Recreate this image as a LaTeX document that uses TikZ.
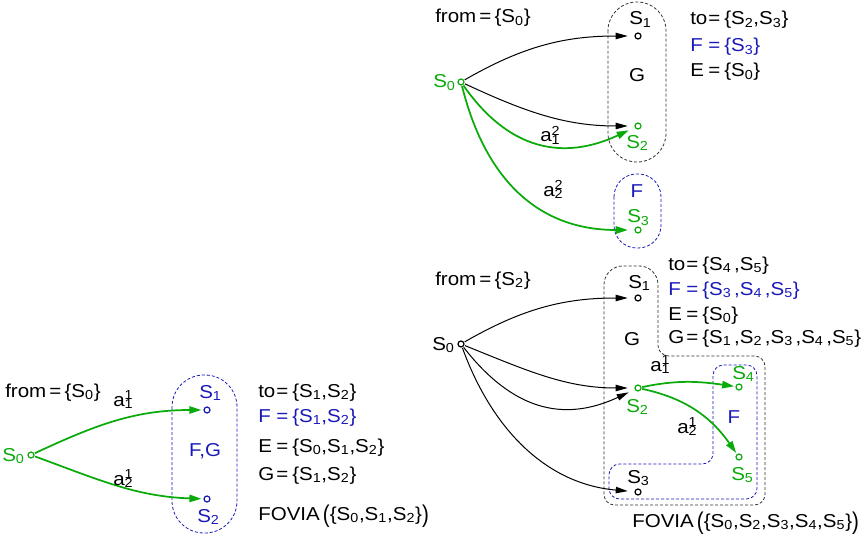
\documentclass[tikz,border=0pt]{standalone}
\usepackage{fontspec}
\setmainfont{Liberation Sans}[FakeStretch=1.1]
\usepackage{graphicx}
\usetikzlibrary{arrows.meta}
\definecolor{gr}{RGB}{10,170,10}
\definecolor{bl}{RGB}{25,25,185}
\newcommand\St[1]{S\textsubscript{#1}}
\newcommand\Sk[1]{S\textsubscript{#1}\kern2pt}
\newcommand\act[2]{a\rlap{\textsuperscript{#2}}\textsubscript{#1}}
\newcommand\eq[1]{\makebox[13.5pt][l]{#1}=\hspace{3pt}}
\newcommand\bigpar[1]{\raisebox{-0.13em}{\scalebox{1}[1.3]{#1}}}
\begin{document}
\begin{tikzpicture}[x=0.75pt,y=-0.75pt,
  txt/.style={inner sep=0pt,anchor=base west,font=\fontsize{14}{16}\selectfont},
  ctxt/.style={txt,anchor=base},
  dot/.style={circle,draw,inner sep=0pt,minimum size=4.5pt,line width=0.9pt},
  karrow/.style={draw=black,line width=0.75pt,-{Triangle[length=9pt,width=4.8pt]},shorten >=5pt,shorten <=0.5pt},
  garrow/.style={draw=gr,line width=1.3pt,-{Triangle[length=9pt,width=5.5pt]},shorten >=5pt,shorten <=0.5pt},
  kdash/.style={draw=black!80,line width=0.6pt,dash pattern=on 2.25pt off 1.5pt},
  bdash/.style={draw=bl,line width=0.6pt,dash pattern=on 2.25pt off 1.5pt},
]
\useasboundingbox (0,0) rectangle (865,535);

% ---------- bottom-left ----------
\draw[bdash,rounded corners=24pt] (172,375) rectangle (237,533);
\node[txt] (fromA) at (5,397) {from\,=\,\{\St0\}};
\node[dot,draw=gr] (a0) at (31,455) {};
\node[txt,text=gr] (la0) at (2,461) {\St0};
\node[dot,draw=bl] (a1) at (207,410) {};
\node[txt,text=bl] (la1) at (199,398) {\St1};
\node[dot,draw=bl] (a2) at (207,499) {};
\node[txt,text=bl] (la2) at (197,522) {\St2};
\node[ctxt,text=bl] (fgA) at (205,456) {F,G};
\draw[garrow,shorten >=1.5pt] (a0) to[out=25,in=180] (a1);
\draw[garrow,shorten >=1.5pt] (a0) to[out=-20,in=178] (a2);
\node[txt] (ac1A) at (113,406) {\act11};
\node[txt] (ac2A) at (113,485) {\act21};
\node[txt] (toA) at (258,397) {\eq{to}\{\St1,\St2\}};
\node[txt,text=bl] (FA) at (258,422) {\eq{F}\{\St1,\St2\}};
\node[txt] (EA) at (258,452) {\eq{E}\{\St0,\St1,\St2\}};
\node[txt] (GA) at (258,480) {\eq{G}\{\St1,\St2\}};
\node[txt] (fovA) at (258,520) {FOVIA\,\bigpar(\{\St0,\St1,\St2\}\bigpar)};

% ---------- top-right ----------
\draw[kdash,rounded corners=21.5pt] (608,2) rectangle (666,162);
\draw[bdash,rounded corners=17pt] (614,174) rectangle (661,248);
\node[txt] (fromB) at (435,23) {from\,=\,\{\St0\}};
\node[dot,draw=gr] (b0) at (461,82) {};
\node[txt,text=gr] (lb0) at (433,88) {\St0};
\node[dot] (b1) at (638,36) {};
\node[txt] (lb1) at (629,25) {\St1};
\node[ctxt] (gB) at (637,82) {G};
\node[dot,draw=gr] (b2) at (638,126) {};
\node[txt,text=gr] (lb2) at (626,148) {\St2};
\node[ctxt,text=bl] (fB) at (637,198) {F};
\node[txt,text=gr] (lb3) at (627,223) {\St3};
\node[dot,draw=gr] (b3) at (638,230) {};
\draw[karrow] (b0) to[out=30,in=180] (b1);
\draw[karrow] (b0) to[out=-25,in=180] (b2);
\draw[garrow] (b0) to[out=-55,in=205,looseness=1.15] (b2);
\draw[garrow] (b0) to[out=-76,in=180,looseness=1.1] (b3);
\node[txt] (ac1B) at (540,142) {\act12};
\node[txt] (ac2B) at (543,196) {\act22};
\node[txt] (toB) at (690,25) {\eq{to}\{\St2,\St3\}};
\node[txt,text=bl] (FB) at (690,52) {\eq{F}\{\St3\}};
\node[txt] (EB) at (690,77) {\eq{E}\{\St0\}};

% ---------- bottom-right ----------
\draw[kdash] (604,420) [rounded corners=14pt] -- (604,266) -- (658,266) [rounded corners=8pt] -- (658,356) -- (765,356) -- (765,505) -- (604,505) -- cycle;
\draw[bdash,rounded corners=8pt] (757,430) -- (757,365) -- (713,365) -- (713,464) -- (609,464) -- (609,499) -- (757,499) -- cycle;
\node[txt] (fromC) at (435,285) {from\,=\,\{\St2\}};
\node[dot] (c0) at (461,344) {};
\node[txt] (lc0) at (432,350) {\St0};
\node[dot] (c1) at (638,298) {};
\node[txt] (lc1) at (628,288) {\St1};
\node[ctxt] (gC) at (632,345) {G};
\node[dot,draw=gr] (c2) at (638,388) {};
\node[txt,text=gr] (lc2) at (626,412) {\St2};
\node[dot,draw=gr] (c4) at (739,387) {};
\node[txt,text=gr] (lc4) at (732,379) {\St4};
\node[ctxt,text=bl] (fC) at (734,423) {F};
\node[dot,draw=gr] (c5) at (739,457) {};
\node[txt,text=gr] (lc5) at (731,480) {\St5};
\node[txt] (lc3) at (627,483) {\St3};
\node[dot] (c3) at (638,492) {};
\draw[karrow] (c0) to[out=30,in=180] (c1);
\draw[karrow] (c0) to[out=-22,in=180] (c2);
\draw[karrow] (c0) to[out=-52,in=205,looseness=1.15] (c2);
\draw[karrow] (c0) to[out=-70,in=175] (c3);
\draw[garrow,shorten >=1pt] (c2) to[out=12,in=172] (c4);
\draw[garrow,shorten >=1pt] (c2) to[out=-12,in=125] (c5);
\node[txt] (ac1C) at (650,371) {\act11};
\node[txt] (ac2C) at (677,433) {\act21};
\node[txt] (toC) at (668,270) {\eq{to}\{\Sk4,\St5\}};
\node[txt,text=bl] (FC) at (668,295) {\eq{F}\{\Sk3,\Sk4,\St5\}};
\node[txt] (EC) at (668,320) {\eq{E}\{\St0\}};
\node[txt] (GC) at (668,343) {\eq{G}\{\Sk1,\Sk2,\Sk3,\Sk4,\St5\}};
\node[txt] (fovC) at (632,527) {FOVIA\,\bigpar(\{\St0,\St2,\St3,\St4,\St5\}\bigpar)};
\end{tikzpicture}
\end{document}
